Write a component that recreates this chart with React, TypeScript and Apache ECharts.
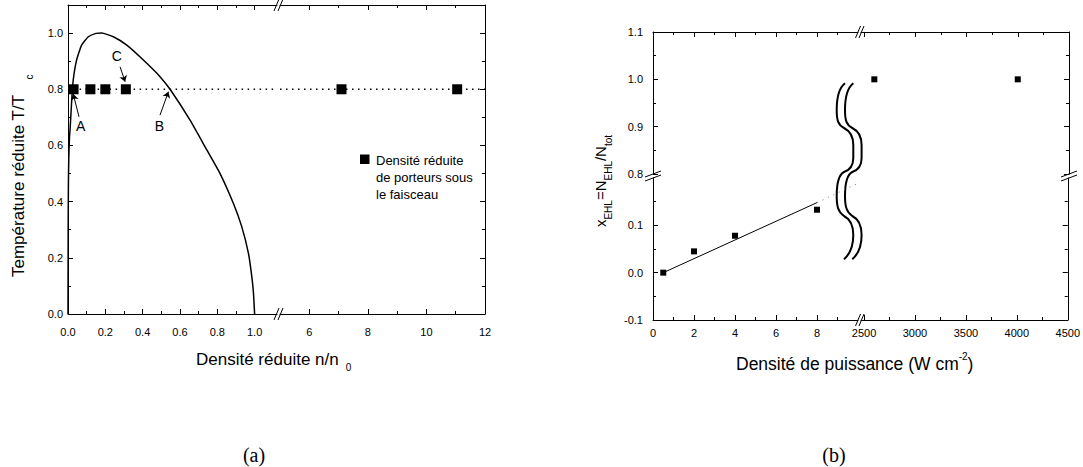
import React, { useEffect, useRef } from 'react';
import * as echarts from 'echarts';

const SANS = '"Liberation Sans", Arial, Helvetica, sans-serif';
const SERIF = '"Liberation Serif", "Times New Roman", serif';

// ---------- Panel (a) data ----------
const curveN = [0, 0.001, 0.002, 0.004, 0.008, 0.011, 0.02, 0.028, 0.046, 0.073, 0.109, 0.15, 0.18, 0.243, 0.315, 0.404, 0.493, 0.547, 0.654, 0.744, 0.815, 0.886, 0.931, 0.967, 0.985, 0.994, 1.0];
const curveT = [0, 0.3, 0.45, 0.55, 0.63, 0.655, 0.762, 0.833, 0.904, 0.957, 0.987, 0.999, 1.0, 0.987, 0.957, 0.904, 0.845, 0.8, 0.69, 0.584, 0.5, 0.394, 0.311, 0.216, 0.133, 0.074, 0.0];
const carrierNLeft = [0.03, 0.12, 0.2, 0.31];
const carrierNRight = [7.1, 11.05];
const carrierT = 0.8;
const levelLeftN = [0.03, 1.12];
const levelRightN = [5, 12];
const xMajorA1 = [0, 0.2, 0.4, 0.6, 0.8, 1.0];
const xMinorA1 = [0.1, 0.3, 0.5, 0.7, 0.9];
const xMajorA2 = [6, 8, 10, 12];
const xMinorA2 = [7, 9, 11];
const yMajorA = [0, 0.2, 0.4, 0.6, 0.8, 1.0];
const yMinorA = [0.1, 0.3, 0.5, 0.7, 0.9];
const annotLabels = ['A', 'B', 'C'];
const annotTextPos = [[0.068, 0.669], [0.49, 0.669], [0.261, 0.918]];
const arrowFrom = [[0.059, 0.702], [0.493, 0.708], [0.279, 0.88]];
const arrowTo = [[0.028, 0.783], [0.538, 0.791], [0.306, 0.827]];
const legendLines = ['Densité réduite', 'de porteurs sous', 'le faisceau'];

// ---------- Panel (b) data ----------
const powerLow = [0.5, 2, 4, 8];
const fracLow = [0.0, 0.045, 0.078, 0.133];
const powerHigh = [2600, 4000];
const fracHigh = [1.0, 1.0];
const fitX = [0.5, 8];
const fitY = [0.0, 0.148];
const extX = [8, 10.2];
const extY = [0.148, 0.193];
const xMajorBL = [0, 2, 4, 6, 8];
const xMinorBL = [1, 3, 5, 7, 9];
const xMajorBR = [2500, 3000, 3500, 4000, 4500];
const xMinorBR = [2750, 3250, 3750, 4250];
const yMajorBLow = [-0.1, 0.0, 0.1];
const yMinorBLow = [-0.05, 0.05, 0.15];
const yMajorBUp = [0.8, 0.9, 1.0, 1.1];
const yMinorBUp = [0.85, 0.95, 1.05];

const BRACE_D =
  'M 9 3.3 C 3 8 0.7 18 0.7 30 C 0.7 40 2 45 8 48 C 14 51 17.3 56 17.3 65 L 17.3 78 ' +
  'C 17.3 86 14 90 8 92 C 2 95 0.7 104 0.7 116 C 0.7 126 2 132 8 136 ' +
  'C 14 139 17.3 145 17.3 155 C 17.3 166 14 174 8 179.3';

type AxisSpec = {
  grid: number;
  pos: string;
  min: number;
  max: number;
  major: number[];
  minor: number[];
  labels?: number[];
  fmt?: (v: number) => string;
  margin?: number;
};

function buildAxes(s: AxisSpec): any[] {
  const base = {
    type: 'value',
    gridIndex: s.grid,
    position: s.pos,
    min: s.min,
    max: s.max,
    splitLine: { show: false },
    silent: true,
  };
  const main = {
    ...base,
    axisLine: { show: true, onZero: false, lineStyle: { color: '#000', width: 1 } },
    axisTick: { show: true, inside: true, length: 5, customValues: s.major, lineStyle: { color: '#000', width: 1 } },
    axisLabel: s.labels
      ? {
          show: true,
          customValues: s.labels,
          formatter: s.fmt,
          margin: s.margin ?? 8,
          color: '#000',
          fontSize: 11,
          fontFamily: SANS,
        }
      : { show: false },
  };
  const minor = {
    ...base,
    axisLine: { show: false, onZero: false },
    axisTick: { show: true, inside: true, length: 3, customValues: s.minor, lineStyle: { color: '#000', width: 1 } },
    axisLabel: { show: false },
  };
  return [main, minor];
}

export default function App() {
  const ref = useRef<HTMLDivElement>(null);
  useEffect(() => {
    if (!ref.current) return;
    echarts.graphic.registerShape('brace', echarts.graphic.extendPath(BRACE_D, {}));
    const chart = echarts.init(ref.current, null, { renderer: 'svg' });

    const grids = [
      { left: 68, top: 5, width: 209, height: 309 }, // A1
      { left: 280, top: 5, width: 205, height: 309 }, // A2
      { left: 653, top: 178, width: 205, height: 142 }, // B lower-left
      { left: 861, top: 178, width: 208, height: 142 }, // B lower-right
      { left: 653, top: 32, width: 205, height: 142 }, // B upper-left
      { left: 861, top: 32, width: 208, height: 142 }, // B upper-right
    ];

    const xAxes: any[] = [];
    const yAxes: any[] = [];
    const addX = (s: AxisSpec) => {
      const i = xAxes.length;
      xAxes.push(...buildAxes(s));
      return i;
    };
    const addY = (s: AxisSpec) => {
      const i = yAxes.length;
      yAxes.push(...buildAxes(s));
      return i;
    };
    const f1 = (v: number) => v.toFixed(1);
    const f0 = (v: number) => String(v);

    // Panel (a)
    const xA1 = addX({ grid: 0, pos: 'bottom', min: 0, max: 1.12, major: xMajorA1, minor: xMinorA1, labels: xMajorA1, fmt: f1, margin: 12 });
    addX({ grid: 0, pos: 'top', min: 0, max: 1.12, major: xMajorA1, minor: xMinorA1 });
    const yA1 = addY({ grid: 0, pos: 'left', min: 0, max: 1.1, major: yMajorA, minor: yMinorA, labels: yMajorA, fmt: f1, margin: 5 });
    const xA2 = addX({ grid: 1, pos: 'bottom', min: 5, max: 12, major: xMajorA2, minor: xMinorA2, labels: xMajorA2, fmt: f0, margin: 12 });
    addX({ grid: 1, pos: 'top', min: 5, max: 12, major: xMajorA2, minor: xMinorA2 });
    const yA2 = addY({ grid: 1, pos: 'right', min: 0, max: 1.1, major: yMajorA, minor: yMinorA });

    // Panel (b)
    const xBLL = addX({ grid: 2, pos: 'bottom', min: 0, max: 10, major: xMajorBL, minor: xMinorBL, labels: xMajorBL, fmt: f0, margin: 7 });
    const yBLL = addY({ grid: 2, pos: 'left', min: -0.1, max: 0.2, major: yMajorBLow, minor: yMinorBLow, labels: yMajorBLow, fmt: f1, margin: 10 });
    addX({ grid: 3, pos: 'bottom', min: 2470, max: 4500, major: xMajorBR, minor: xMinorBR, labels: xMajorBR, fmt: f0, margin: 7 });
    addY({ grid: 3, pos: 'right', min: -0.1, max: 0.2, major: yMajorBLow, minor: yMinorBLow });
    addX({ grid: 4, pos: 'top', min: 0, max: 10, major: xMajorBL, minor: xMinorBL });
    addY({ grid: 4, pos: 'left', min: 0.8, max: 1.1, major: yMajorBUp, minor: yMinorBUp, labels: yMajorBUp, fmt: f1, margin: 10 });
    const xBUR = addX({ grid: 5, pos: 'top', min: 2470, max: 4500, major: xMajorBR, minor: xMinorBR });
    const yBUR = addY({ grid: 5, pos: 'right', min: 0.8, max: 1.1, major: yMajorBUp, minor: yMinorBUp });

    const dotted = { color: '#000', width: 1.5, type: [1.5, 4.5] };
    const solidMark = { color: '#000', opacity: 1 };

    const series: any[] = [
      {
        type: 'line',
        xAxisIndex: xA1,
        yAxisIndex: yA1,
        data: curveN.map((n, i) => [n, curveT[i]]),
        smooth: 0.15,
        showSymbol: false,
        symbol: 'none',
        lineStyle: { color: '#000', width: 1.5 },
        silent: true,
      },
      {
        type: 'line',
        xAxisIndex: xA1,
        yAxisIndex: yA1,
        data: levelLeftN.map((n) => [n, carrierT]),
        symbol: 'none',
        lineStyle: dotted,
        silent: true,
      },
      {
        type: 'line',
        xAxisIndex: xA2,
        yAxisIndex: yA2,
        data: levelRightN.map((n) => [n, carrierT]),
        symbol: 'none',
        lineStyle: dotted,
        silent: true,
      },
      {
        type: 'scatter',
        xAxisIndex: xA1,
        yAxisIndex: yA1,
        data: carrierNLeft.map((n) => [n, carrierT]),
        symbol: 'rect',
        symbolSize: 10,
        itemStyle: solidMark,
        silent: true,
        markLine: {
          silent: true,
          symbol: ['none', 'arrow'],
          symbolSize: 6,
          label: { show: false },
          lineStyle: { color: '#000', width: 1, type: 'solid' },
          data: annotLabels.map((_, i) => [{ coord: arrowFrom[i] }, { coord: arrowTo[i] }]),
        },
        markPoint: {
          silent: true,
          symbol: 'circle',
          symbolSize: 1,
          itemStyle: { color: 'rgba(0,0,0,0)' },
          label: { show: true, position: 'inside', formatter: '{b}', color: '#000', fontSize: 14, fontFamily: SANS },
          data: annotLabels.map((name, i) => ({ name, coord: annotTextPos[i] })),
        },
      },
      {
        type: 'scatter',
        xAxisIndex: xA2,
        yAxisIndex: yA2,
        data: carrierNRight.map((n) => [n, carrierT]),
        symbol: 'rect',
        symbolSize: 10,
        itemStyle: solidMark,
        silent: true,
      },
      // Panel (b)
      {
        type: 'line',
        xAxisIndex: xBLL,
        yAxisIndex: yBLL,
        data: fitX.map((x, i) => [x, fitY[i]]),
        symbol: 'none',
        lineStyle: { color: '#000', width: 1 },
        silent: true,
      },
      {
        type: 'line',
        xAxisIndex: xBLL,
        yAxisIndex: yBLL,
        data: extX.map((x, i) => [x, extY[i]]),
        symbol: 'none',
        clip: false,
        lineStyle: { color: '#777', width: 1, type: [1, 5] },
        silent: true,
      },
      {
        type: 'scatter',
        xAxisIndex: xBLL,
        yAxisIndex: yBLL,
        data: powerLow.map((x, i) => [x, fracLow[i]]),
        symbol: 'rect',
        symbolSize: 6,
        itemStyle: solidMark,
        silent: true,
      },
      {
        type: 'scatter',
        xAxisIndex: xBUR,
        yAxisIndex: yBUR,
        data: powerHigh.map((x, i) => [x, fracHigh[i]]),
        symbol: 'rect',
        symbolSize: 6,
        itemStyle: solidMark,
        silent: true,
      },
    ];

    const slashH = (cx: number, y: number) => ({
      type: 'line',
      silent: true,
      shape: { x1: cx - 2.5, y1: y + 6, x2: cx + 2.5, y2: y - 6 },
      style: { stroke: '#000', lineWidth: 1 },
    });
    const slashV = (x: number, cy: number) => ({
      type: 'line',
      silent: true,
      shape: { x1: x - 8, y1: cy + 3, x2: x + 8, y2: cy - 3 },
      style: { stroke: '#000', lineWidth: 1 },
    });

    const graphic: any[] = [
      // break marks (a)
      slashH(276.5, 5), slashH(280.5, 5), slashH(276.5, 314), slashH(280.5, 314),
      // break marks (b)
      slashH(858, 32), slashH(861.5, 32), slashH(858, 320), slashH(861.5, 320),
      slashV(653, 174), slashV(653, 178), slashV(1069, 174), slashV(1069, 178),
      // braces
      { type: 'brace', x: 836, y: 80, silent: true, style: { fill: 'none', stroke: '#000', lineWidth: 2 } },
      { type: 'brace', x: 844.3, y: 80, silent: true, style: { fill: 'none', stroke: '#000', lineWidth: 2 } },
      // legend (a)
      { type: 'rect', silent: true, shape: { x: 360, y: 154.5, width: 9.5, height: 9.5 }, style: { fill: '#000' } },
      {
        type: 'text', silent: true, x: 376, y: 151.5,
        style: { text: legendLines.join('\n'), font: `13px ${SANS}`, fill: '#000', lineHeight: 17, textAlign: 'left', textVerticalAlign: 'top' },
      },
      // axis titles (a)
      {
        type: 'text', silent: true, x: 196, y: 359,
        style: { text: 'Densité réduite n/n', font: `17px ${SANS}`, fill: '#000', textAlign: 'left', textVerticalAlign: 'middle' },
      },
      {
        type: 'text', silent: true, x: 348.5, y: 367.5,
        style: { text: '0', font: `10px ${SANS}`, fill: '#000', textAlign: 'center', textVerticalAlign: 'middle' },
      },
      {
        type: 'text', silent: true, x: 18, y: 277, rotation: Math.PI / 2,
        style: { text: 'Température réduite T/T', font: `17px ${SANS}`, fill: '#000', textAlign: 'left', textVerticalAlign: 'middle' },
      },
      {
        type: 'text', silent: true, x: 29, y: 77, rotation: Math.PI / 2,
        style: { text: 'c', font: `10px ${SANS}`, fill: '#000', textAlign: 'center', textVerticalAlign: 'middle' },
      },
      // axis titles (b)
      {
        type: 'text', silent: true, x: 736, y: 364,
        style: {
          text: '{m|Densité de puissance (W cm}{s|-2}{m|)}',
          textAlign: 'left', textVerticalAlign: 'middle',
          rich: {
            m: { fontSize: 17.5, fontFamily: SANS, fill: '#000', lineHeight: 26, verticalAlign: 'middle' },
            s: { fontSize: 10, fontFamily: SANS, fill: '#000', lineHeight: 12, verticalAlign: 'top' },
          },
        },
      },
      {
        type: 'text', silent: true, x: 603, y: 181, rotation: Math.PI / 2,
        style: {
          text: '{m|x}{s|EHL}{m|=N}{s|EHL}{m|/N}{s|tot}',
          textAlign: 'center', textVerticalAlign: 'middle',
          rich: {
            m: { fontSize: 15, fontFamily: SANS, fill: '#000', lineHeight: 20, verticalAlign: 'top' },
            s: { fontSize: 10, fontFamily: SANS, fill: '#000', lineHeight: 6, verticalAlign: 'bottom' },
          },
        },
      },
      // panel labels
      {
        type: 'text', silent: true, x: 254, y: 455,
        style: { text: '(a)', font: `20px ${SERIF}`, fill: '#000', textAlign: 'center', textVerticalAlign: 'middle' },
      },
      {
        type: 'text', silent: true, x: 834, y: 455,
        style: { text: '(b)', font: `20px ${SERIF}`, fill: '#000', textAlign: 'center', textVerticalAlign: 'middle' },
      },
    ];

    chart.setOption({
      animation: false,
      backgroundColor: '#fff',
      grid: grids.map((g) => ({ ...g, containLabel: false })),
      xAxis: xAxes,
      yAxis: yAxes,
      series,
      graphic,
    });

    return () => chart.dispose();
  }, []);

  return (
    <div
      ref={ref}
      style={{ position: 'fixed', left: 0, top: 0, width: 1083, height: 467, background: '#fff' }}
    />
  );
}
